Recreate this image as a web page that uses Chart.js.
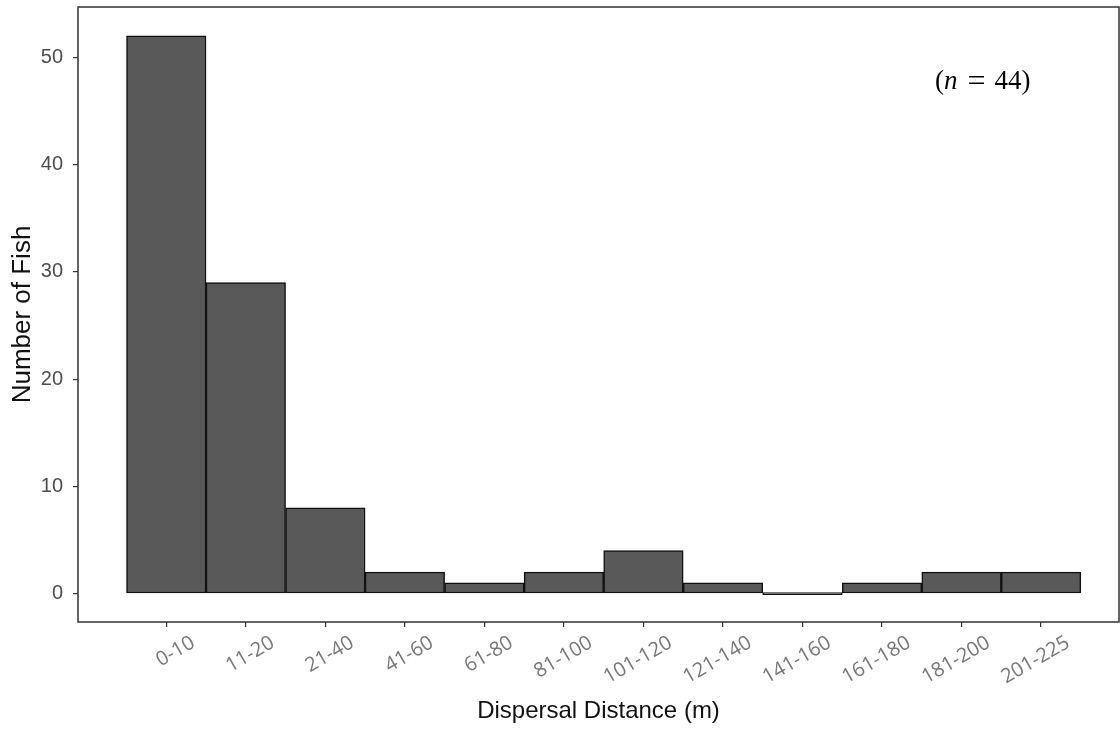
<!DOCTYPE html>
<html>
<head>
<meta charset="utf-8">
<script src="https://cdn.jsdelivr.net/npm/chart.js@4"></script>
<style>
  html, body { margin: 0; padding: 0; background: #fff; }
  #wrap { width: 1120px; height: 729px; }
</style>
</head>
<body>
<div id="wrap"><canvas id="myChart" width="1120" height="729"></canvas></div>
<script>
const distanceBins = ['0-10', '11-20', '21-40', '41-60', '61-80', '81-100', '101-120',
  '121-140', '141-160', '161-180', '181-200', '201-225'];
const fishCounts = [52, 29, 8, 2, 1, 2, 4, 1, 0, 1, 2, 2];
const yTickValues = [0, 10, 20, 30, 40, 50];
const sampleNote = { pre: '(', italic: 'n', eq: '=', post: '44)' };

// panel border around the plotting area, like ggplot theme_bw
const panelBox = {
  id: 'panelBox',
  afterDraw(chart) {
    const { ctx, chartArea } = chart;
    ctx.save();
    ctx.strokeStyle = '#333333';
    ctx.lineWidth = 1.5;
    ctx.strokeRect(chartArea.left, chartArea.top, chartArea.right - chartArea.left, chartArea.bottom - chartArea.top);
    // (n = 44) annotation, math-style spacing round the equals sign
    ctx.fillStyle = '#000';
    ctx.textBaseline = 'middle';
    const roman = '27px "Liberation Serif"';
    let x = 935;
    const y = 82;
    ctx.font = roman;
    ctx.fillText(sampleNote.pre, x, y);
    x += ctx.measureText(sampleNote.pre).width;
    ctx.font = 'italic ' + roman;
    ctx.fillText(sampleNote.italic, x, y);
    x += ctx.measureText(sampleNote.italic).width + 10;
    ctx.font = '32px "Liberation Serif"';
    ctx.fillText(sampleNote.eq, x, y + 1);
    x += ctx.measureText(sampleNote.eq).width + 9;
    ctx.font = roman;
    ctx.fillText(sampleNote.post, x, y);
    ctx.restore();
  }
};

const ctx = document.getElementById('myChart').getContext('2d');
new Chart(ctx, {
  type: 'bar',
  data: {
    datasets: [{
      data: fishCounts.map((v, i) => ({ x: i, y: v })),
      backgroundColor: '#595959',
      borderColor: '#111111',
      borderWidth: 1.5,
      borderSkipped: false,
      minBarLength: 2,
      barPercentage: 1,
      categoryPercentage: 1,
    }],
  },
  options: {
    responsive: false,
    animation: false,
    layout: { padding: { top: 7, right: 1, left: 0, bottom: 0 } },
    plugins: {
      legend: { display: false },
      tooltip: { enabled: false },
    },
    scales: {
      x: {
        type: 'linear',
        offset: false,
        min: -1.11,
        max: 11.98,
        afterBuildTicks: (scale) => {
          scale.ticks = distanceBins.map((_, i) => ({ value: i }));
        },
        afterFit: (scale) => {
          scale.height = 107;
          scale.paddingLeft = 0;
          scale.paddingRight = 0;
        },
        border: { display: false },
        grid: { offset: false, drawOnChartArea: false, tickLength: 5, color: '#333333', lineWidth: 1.2 },
        ticks: {
          autoSkip: false,
          minRotation: 30,
          maxRotation: 30,
          labelOffset: 27,
          padding: 4,
          color: '#777777',
          font: { family: 'Open Sans', size: 20 },
          callback: (value) => distanceBins[value],
        },
        title: {
          display: true,
          text: 'Dispersal Distance (m)',
          color: '#111',
          font: { family: 'Liberation Sans', size: 24 },
          padding: { top: 0, bottom: 3 },
        },
      },
      y: {
        min: -2.65,
        max: 54.7,
        afterBuildTicks: (scale) => {
          scale.ticks = yTickValues.map((v) => ({ value: v }));
        },
        afterFit: (scale) => {
          scale.width = 78;
          scale.paddingTop = 0;
          scale.paddingBottom = 0;
        },
        border: { display: false },
        grid: { drawOnChartArea: false, tickLength: 5, color: '#333333', lineWidth: 1.2 },
        ticks: {
          padding: 10,
          color: '#4d4d4d',
          font: { family: 'Liberation Sans', size: 20 },
        },
        title: {
          display: true,
          text: 'Number of Fish',
          color: '#111',
          font: { family: 'Liberation Sans', size: 26 },
          padding: { top: 7, bottom: 0 },
        },
      },
    },
  },
  plugins: [panelBox],
});
</script>
</body>
</html>
